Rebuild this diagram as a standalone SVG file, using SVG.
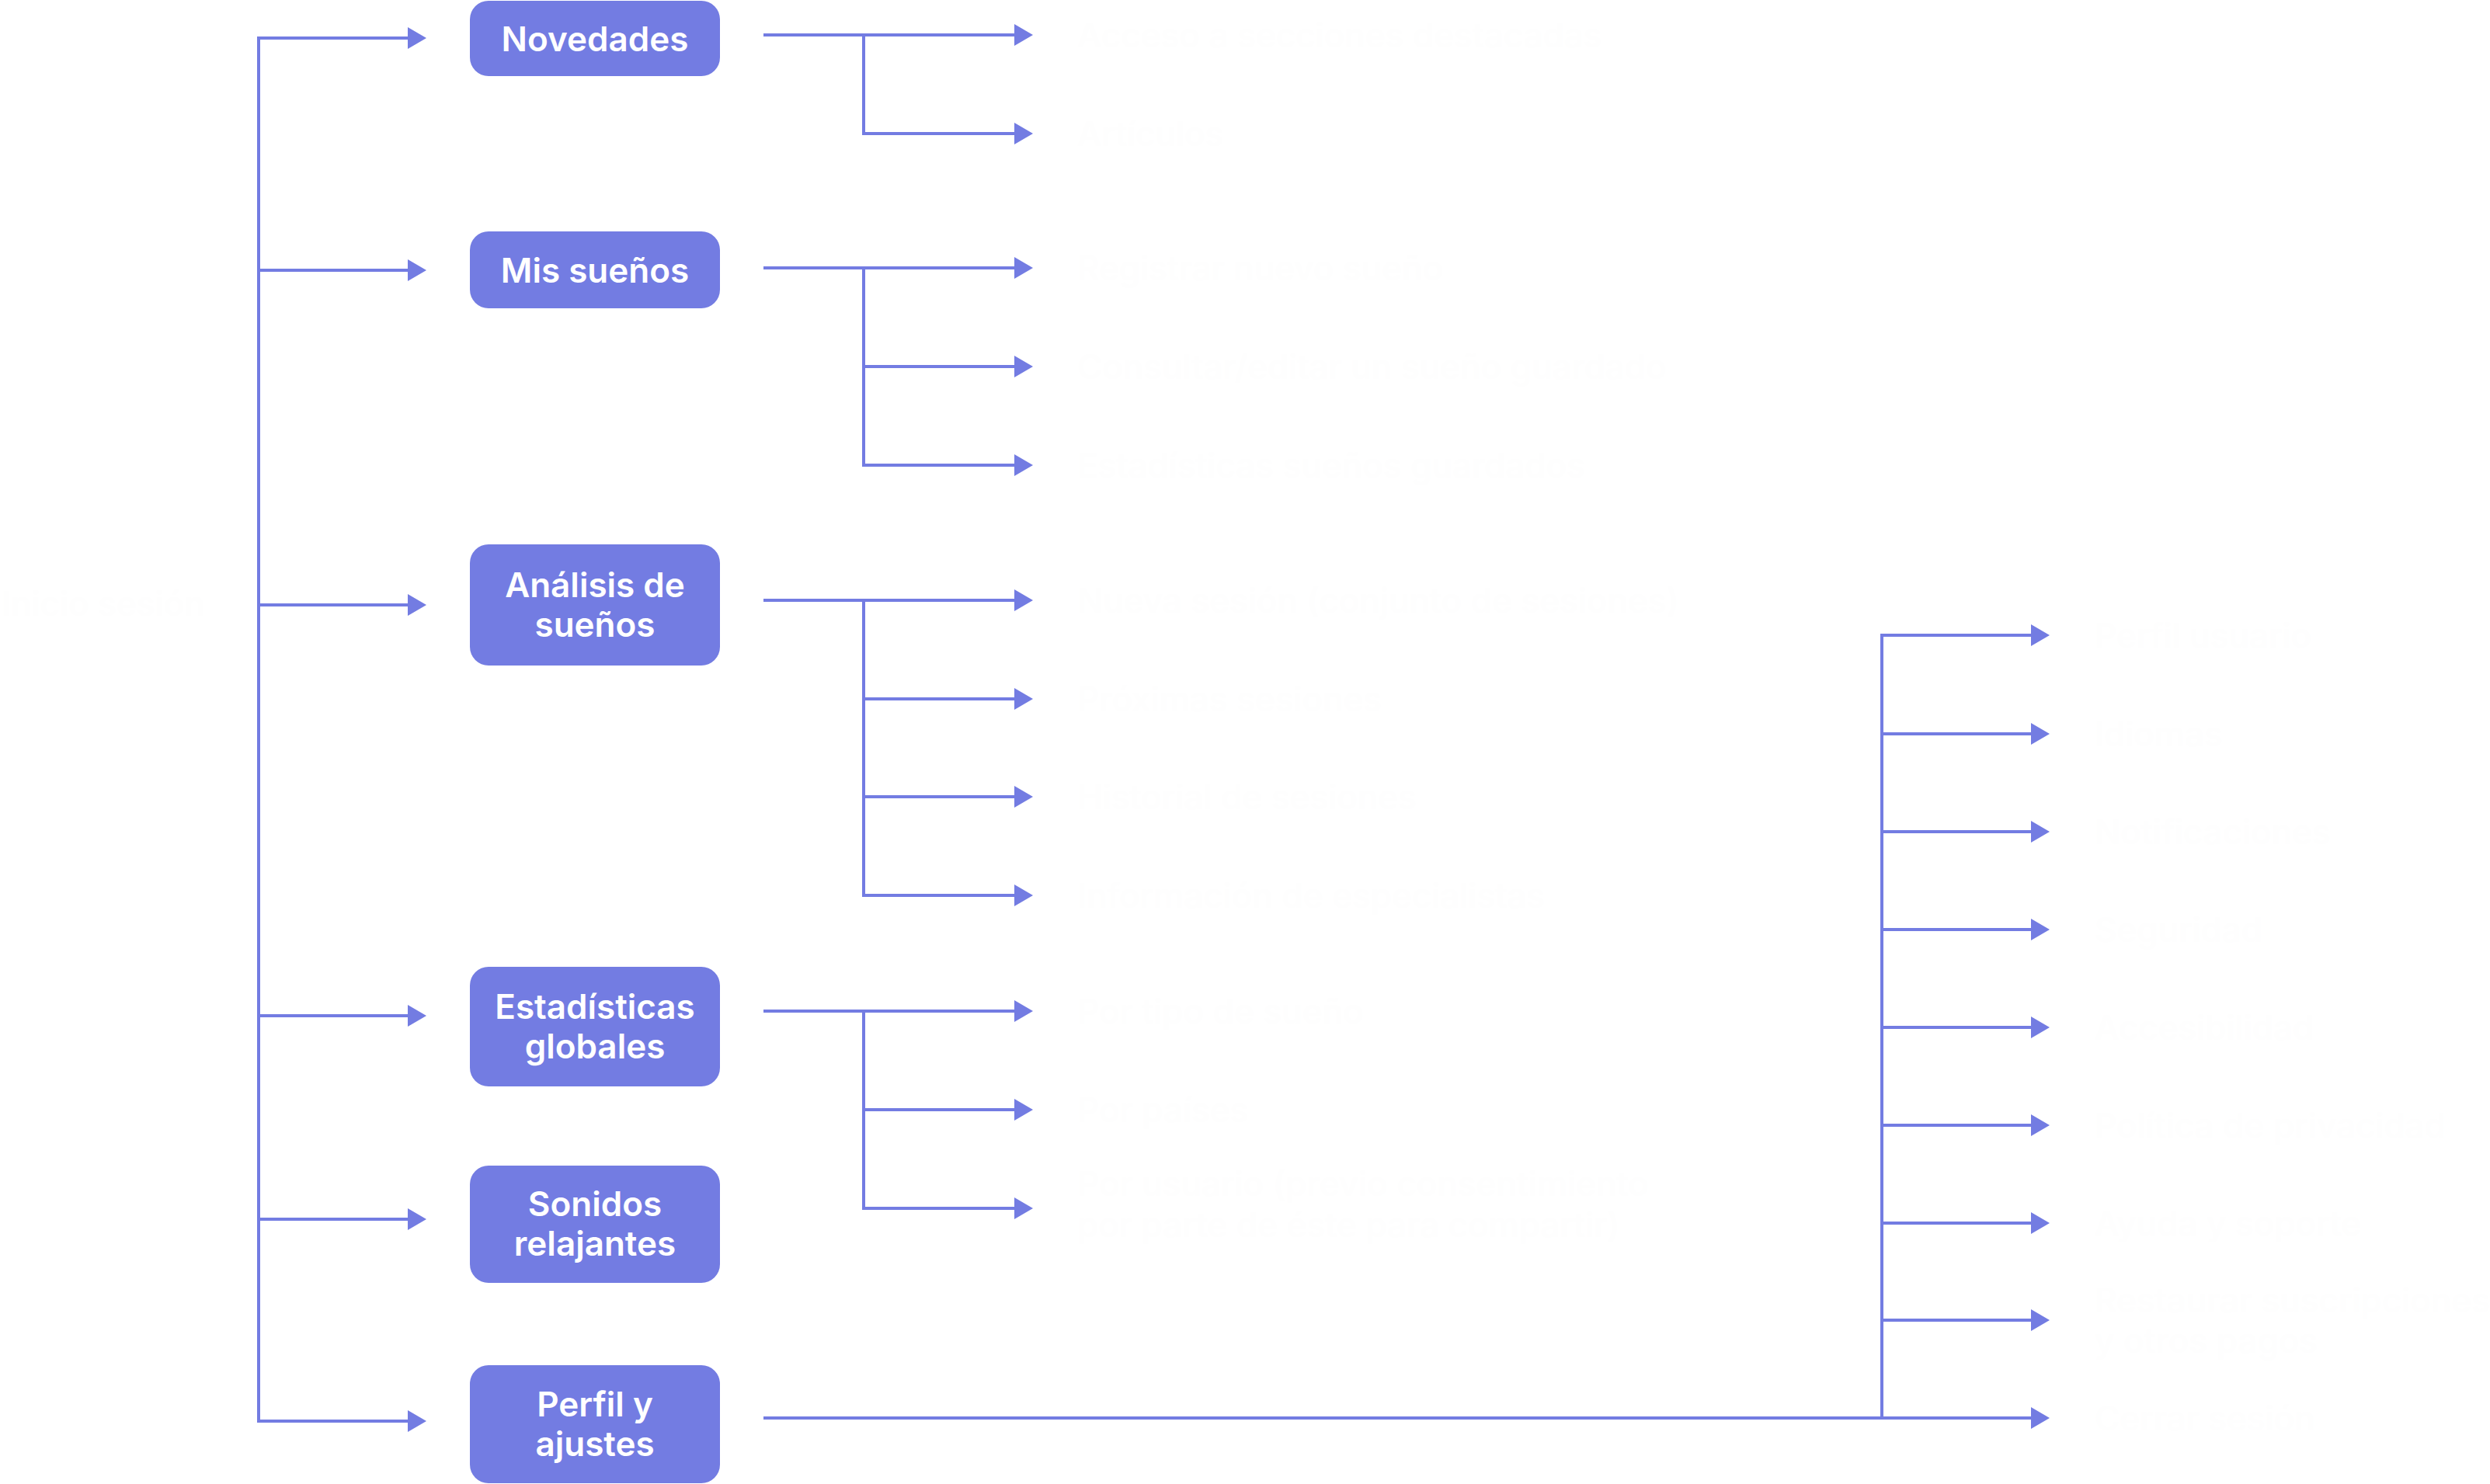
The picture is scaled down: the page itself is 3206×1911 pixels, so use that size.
<svg xmlns="http://www.w3.org/2000/svg" width="3206" height="1911" viewBox="0 0 3206 1911">
<defs>
<style>
.node rect{fill:#737ce2}
.node text{fill:#ffffff;font-family:Inter,"Noto Sans","Liberation Sans",sans-serif;font-size:44px;font-weight:600;text-anchor:middle}
.conn path{fill:none;stroke:#737ce2;stroke-width:4;marker-end:url(#ah)}
.conn path.plain{marker-end:none}
.lbl{fill:#fefefe;font-family:Inter,"Noto Sans","Liberation Sans",sans-serif;font-size:44px;font-weight:500}
</style>
<marker id="ah" markerUnits="userSpaceOnUse" markerWidth="24" markerHeight="28" refX="5" refY="14" orient="auto">
<path d="M0,0 L24,14 L0,28 Z" fill="#737ce2"/>
</marker>
</defs>
<rect width="3206" height="1911" fill="#ffffff"/>

<g id="connectors" class="conn">
<path class="plain" d="M333,49 V1830"/>
<path d="M331,49 H530"/>
<path d="M333,348 H530"/>
<path d="M333,779 H530"/>
<path d="M333,1308 H530"/>
<path d="M333,1570 H530"/>
<path d="M331,1830 H530"/>

<path d="M983,45 H1311"/>
<path d="M1112,45 V172 H1311"/>

<path d="M983,345 H1311"/>
<path d="M1112,472 H1311"/>
<path d="M1112,345 V599 H1311"/>

<path d="M983,773 H1311"/>
<path d="M1112,900 H1311"/>
<path d="M1112,1026 H1311"/>
<path d="M1112,773 V1153 H1311"/>

<path d="M983,1302 H1311"/>
<path d="M1112,1429 H1311"/>
<path d="M1112,1302 V1556 H1311"/>

<path d="M983,1826 H2620"/>
<path d="M2423,818 H2620"/>
<path class="plain" d="M2423,816 V1826"/>
<path d="M2423,945 H2620"/>
<path d="M2423,1071 H2620"/>
<path d="M2423,1197 H2620"/>
<path d="M2423,1323 H2620"/>
<path d="M2423,1449 H2620"/>
<path d="M2423,1575 H2620"/>
<path d="M2423,1700 H2620"/>
</g>

<g id="node-novedades" class="node">
<rect x="605" y="1" width="322" height="97" rx="24"/>
<text x="766" y="66">Novedades</text>
</g>
<g id="node-mis-suenos" class="node">
<rect x="605" y="298" width="322" height="99" rx="24"/>
<text x="766" y="364">Mis sueños</text>
</g>
<g id="node-analisis" class="node">
<rect x="605" y="701" width="322" height="156" rx="24"/>
<text x="766" y="769">Análisis de</text>
<text x="766" y="820">sueños</text>
</g>
<g id="node-estadisticas" class="node">
<rect x="605" y="1245" width="322" height="154" rx="24"/>
<text x="766" y="1312">Estadísticas</text>
<text x="766" y="1363">globales</text>
</g>
<g id="node-sonidos" class="node">
<rect x="605" y="1501" width="322" height="151" rx="24"/>
<text x="766" y="1566">Sonidos</text>
<text x="766" y="1617">relajantes</text>
</g>
<g id="node-perfil" class="node">
<rect x="605" y="1758" width="322" height="152" rx="24"/>
<text x="766" y="1824">Perfil y</text>
<text x="766" y="1875">ajustes</text>
</g>

<g id="labels">
<text class="lbl" x="2" y="793">Inicio sesión</text>
<text class="lbl" x="1387" y="61">Acceso a secciones destacadas</text>
<text class="lbl" x="1387" y="188">Artículos</text>
<text class="lbl" x="1387" y="361">Registrar nuevo sueño</text>
<text class="lbl" x="1387" y="488">Consultar/editar un sueño guardado</text>
<text class="lbl" x="1387" y="615">Estadísticas sueños guardados</text>
<text class="lbl" x="1387" y="789">Nueva sesión (conjunto de sesiones)</text>
<text class="lbl" x="1387" y="916">Próximas sesiones</text>
<text class="lbl" x="1387" y="1042">Historial de sesiones</text>
<text class="lbl" x="1387" y="1169">Información de especialistas</text>
<text class="lbl" x="1387" y="1318">Por tipo de sueño</text>
<text class="lbl" x="1387" y="1445">Por países</text>
<text class="lbl" x="1387" y="1540">Por usuario (previo consentimiento</text>
<text class="lbl" x="1387" y="1593">por parte de éste para compartir)</text>
<text class="lbl" x="2697" y="834">Perfil usuario</text>
<text class="lbl" x="2697" y="961">Idiomas</text>
<text class="lbl" x="2697" y="1087">Notificaciones</text>
<text class="lbl" x="2697" y="1213">Seguridad</text>
<text class="lbl" x="2697" y="1339">Accesibilidad</text>
<text class="lbl" x="2697" y="1465">Política de privacidad</text>
<text class="lbl" x="2697" y="1591">Ayuda y soporte</text>
<text class="lbl" x="2697" y="1690">Restaurar suscripciones</text>
<text class="lbl" x="2697" y="1742">y otros pagos</text>
<text class="lbl" x="2697" y="1842">Cerrar sesión</text>
</g>
</svg>
